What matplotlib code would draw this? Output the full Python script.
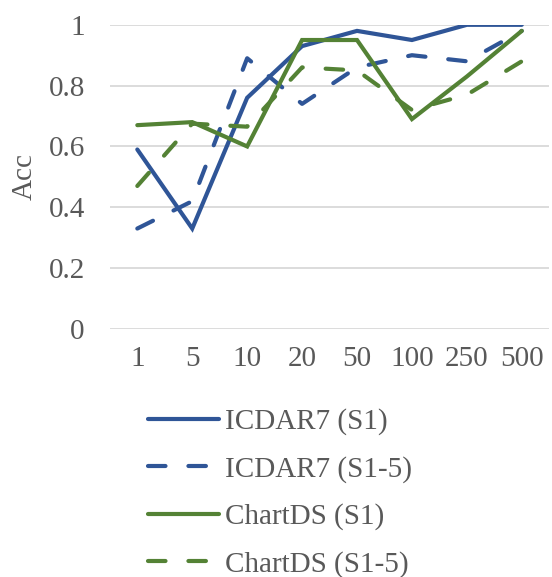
import matplotlib
matplotlib.use("Agg")
import matplotlib.pyplot as plt

plt.rcParams['font.family'] = ['Liberation Serif', 'DejaVu Serif']

categories = ['1', '5', '10', '20', '50', '100', '250', '500']
icdar_s1 = [0.59, 0.33, 0.76, 0.93, 0.98, 0.95, 1.0, 1.0]
icdar_s15 = [0.33, 0.42, 0.89, 0.74, 0.86, 0.90, 0.88, 0.98]
chartds_s1 = [0.67, 0.68, 0.60, 0.95, 0.95, 0.69, 0.83, 0.98]
chartds_s15 = [0.47, 0.675, 0.665, 0.86, 0.85, 0.72, 0.77, 0.88]
yticks = [0, 0.2, 0.4, 0.6, 0.8, 1]
ytick_labels = ['0', '0.2', '0.4', '0.6', '0.8', '1']

blue = '#2F5597'
green = '#548235'
text_col = '#595959'
fs = 21

fig = plt.figure(figsize=(5.52, 5.77), dpi=100)
ax = fig.add_axes([0.199, 0.430, 0.796, 0.527])

x = range(len(categories))
lw = 3.0
dash = (4.2, 5.5)
ax.plot(x, icdar_s1, color=blue, lw=lw, label='ICDAR7 (S1)',
        solid_capstyle='round', solid_joinstyle='miter')
ax.plot(x, icdar_s15, color=blue, lw=lw, dashes=dash, label='ICDAR7 (S1-5)',
        dash_capstyle='round')
ax.plot(x, chartds_s1, color=green, lw=lw, label='ChartDS (S1)',
        solid_capstyle='round', solid_joinstyle='miter')
ax.plot(x, chartds_s15, color=green, lw=lw, dashes=dash, label='ChartDS (S1-5)',
        dash_capstyle='round')

ax.set_xlim(-0.5, len(categories) - 0.5)
ax.set_ylim(0, 1)
ax.set_xticks(list(x))
ax.set_xticklabels(categories)
ax.set_yticks(yticks)
ax.set_yticklabels(ytick_labels)
ax.tick_params(length=0, labelsize=fs, colors=text_col, pad=12)
ax.tick_params(axis='y', pad=18)
for s in ax.spines.values():
    s.set_visible(False)
ax.grid(axis='y', color='#D9D9D9', lw=1.3)
ax.set_axisbelow(True)
ax.set_ylabel('Acc', fontsize=fs, color=text_col, labelpad=8)

fig.legend(loc='upper left', bbox_to_anchor=(0.268, 0.292), frameon=False,
           fontsize=fs, labelcolor=text_col, handlelength=2.45,
           handletextpad=0.2, labelspacing=0.7, borderpad=0, borderaxespad=0)

fig.savefig('out.png', dpi=100)
